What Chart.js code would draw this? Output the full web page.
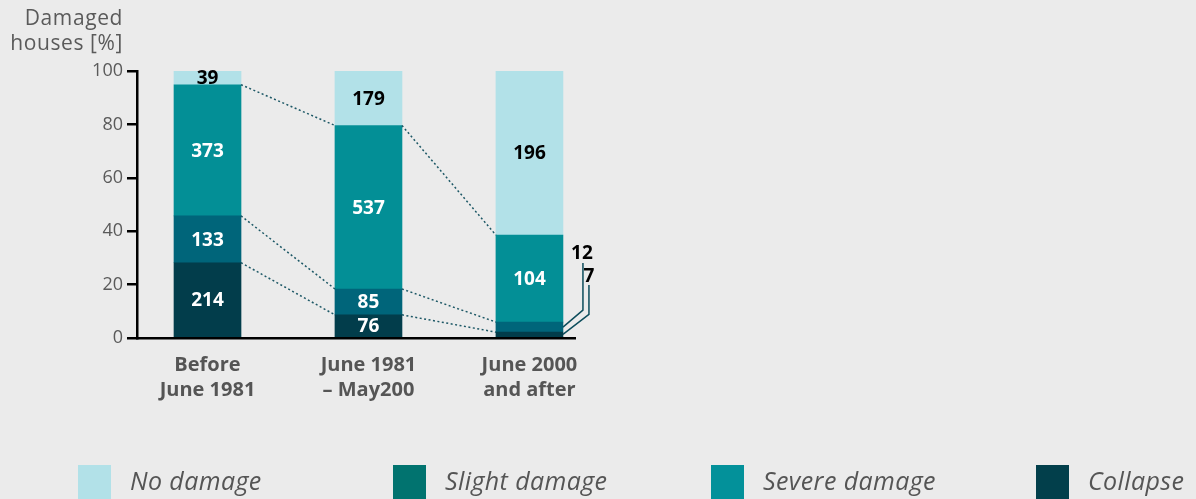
<!DOCTYPE html>
<html>
<head>
<meta charset="utf-8">
<script src="https://cdn.jsdelivr.net/npm/chart.js@4"></script>
<style>
  html, body { margin: 0; padding: 0; background: #ebebeb; }
  #wrap { width: 1196px; height: 499px; }
</style>
</head>
<body>
<div id="wrap"><canvas id="chart" width="1196" height="499"></canvas></div>
<script>
// house counts per construction period
const periods = [["Before", "June 1981"], ["June 1981", "– May200"], ["June 2000", "and after"]];
const collapse = [214, 76, 7];
const slight = [133, 85, 12];
const severe = [373, 537, 104];
const noDamage = [39, 179, 196];
const yTicks = [0, 20, 40, 60, 80, 100];

const seriesNames = ["Collapse", "Slight damage", "Severe damage", "No damage"];
const barColors = ["#023d4b", "#00657a", "#038f96", "#b2e1e8"];
const legendColors = ["#023f4b", "#01736f", "#03919a", "#b2e1e8"];
const counts = [collapse, slight, severe, noDamage];

const totals = periods.map((p, i) => counts.reduce((s, arr) => s + arr[i], 0));
const toPct = arr => arr.map((v, i) => ({ x: i, y: v / totals[i] * 100 }));

const FONT = "'Open Sans', 'Noto Sans', sans-serif";
const GREY = "#5a5a5a";

const extras = {
  id: "extras",
  beforeDraw(chart) {
    const ctx = chart.ctx;
    ctx.save();
    ctx.fillStyle = "#ebebeb";
    ctx.fillRect(0, 0, chart.width, chart.height);
    ctx.restore();
  },
  afterDatasetsDraw(chart) {
    const ctx = chart.ctx;
    const metas = counts.map((c, i) => chart.getDatasetMeta(i));
    const half = 67 / 2;

    // dotted lines joining segment tops of neighbouring bars
    ctx.save();
    ctx.strokeStyle = "#1d5866";
    ctx.lineWidth = 1.5;
    ctx.setLineDash([2, 2.5]);
    for (let s = 0; s < 3; s++) {
      for (let b = 0; b < 2; b++) {
        const a = metas[s].data[b], n = metas[s].data[b + 1];
        ctx.beginPath();
        ctx.moveTo(a.x + half, a.y);
        ctx.lineTo(n.x - half, n.y);
        ctx.stroke();
      }
    }
    ctx.restore();

    // value labels
    ctx.save();
    ctx.font = "bold 19px " + FONT;
    ctx.textAlign = "center";
    ctx.textBaseline = "middle";
    counts.forEach((arr, s) => {
      arr.forEach((v, b) => {
        if (b === 2 && s < 2) return;
        const el = metas[s].data[b];
        ctx.fillStyle = s === 3 ? "#000" : "#fff";
        ctx.fillText(String(v), el.x, (el.y + el.base) / 2 + 1);
      });
    });

    // small segments of the last bar, labelled outside
    const last = [metas[1].data[2], metas[0].data[2]];
    const offs = [{ dx: 20, up: 17, ly: 254, top: 263, val: slight[2] },
                  { dx: 26, up: 20, ly: 277, top: 285, val: collapse[2] }];
    ctx.strokeStyle = "#0d4d5c";
    ctx.lineWidth = 1.5;
    last.forEach((el, k) => {
      const o = offs[k];
      const xr = el.x + half;
      const ym = (el.y + el.base) / 2;
      ctx.beginPath();
      ctx.moveTo(xr, ym);
      ctx.lineTo(xr + o.dx, ym - o.up);
      ctx.lineTo(xr + o.dx, o.top);
      ctx.stroke();
      ctx.fillStyle = "#000";
      ctx.fillText(String(o.val), xr + o.dx - (k === 0 ? 1 : 0), o.ly);
    });
    ctx.restore();
  },
  afterDraw(chart) {
    const ctx = chart.ctx;
    ctx.save();
    // y axis title
    ctx.fillStyle = GREY;
    ctx.font = "21px " + FONT;
    ctx.letterSpacing = "0.6px";
    ctx.textAlign = "right";
    ctx.textBaseline = "alphabetic";
    ctx.fillText("Damaged", 123, 25);
    ctx.fillText("houses [%]", 123, 50);

    // legend
    const order = [3, 1, 2, 0];
    const legendX = [78, 393, 711, 1036];
    ctx.textAlign = "left";
    ctx.font = "italic 25px " + FONT;
    ctx.letterSpacing = "0.4px";
    order.forEach((s, i) => {
      const x = legendX[i];
      ctx.fillStyle = legendColors[s];
      ctx.fillRect(x, 465, 33, 34);
      ctx.fillStyle = "#555";
      ctx.fillText(seriesNames[s], x + 52, 490);
    });
    ctx.restore();
  }
};

new Chart(document.getElementById("chart"), {
  type: "bar",
  data: {
    datasets: counts.map((arr, s) => ({
      label: seriesNames[s],
      data: toPct(arr),
      backgroundColor: barColors[s],
      barThickness: 67,
      borderWidth: 0
    }))
  },
  options: {
    responsive: false,
    animation: false,
    layout: { padding: { top: 71, right: 621, left: 0, bottom: 0 } },
    plugins: { legend: { display: false }, tooltip: { enabled: false } },
    scales: {
      x: {
        type: "linear",
        stacked: true,
        offset: false,
        min: -0.438,
        max: 2.283,
        afterBuildTicks: axis => { axis.ticks = periods.map((p, i) => ({ value: i })); },
        afterFit: axis => { axis.height = 161; },
        ticks: {
          callback: v => periods[v],
          color: "#555",
          font: { family: FONT, size: 20, weight: "bold", lineHeight: 1.25 },
          padding: 15,
          maxRotation: 0,
          autoSkip: false
        },
        grid: { display: true, drawOnChartArea: false, drawTicks: false, offset: false },
        border: { color: "#000", width: 2.5 }
      },
      y: {
        stacked: true,
        min: 0,
        max: 100,
        afterBuildTicks: axis => { axis.ticks = yTicks.map(v => ({ value: v })); },
        afterFit: axis => { axis.width = 137; },
        ticks: {
          color: GREY,
          font: { family: FONT, size: 18 },
          padding: 4
        },
        grid: { drawOnChartArea: false, tickLength: 10, color: "#000", lineWidth: 2.5 },
        border: { color: "#000", width: 2.5 }
      }
    }
  },
  plugins: [extras]
});
</script>
</body>
</html>
